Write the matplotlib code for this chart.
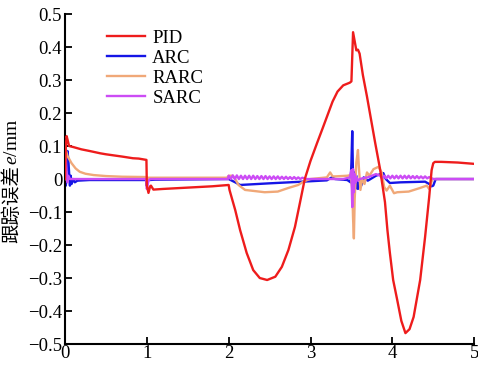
import matplotlib
matplotlib.use('Agg')
import matplotlib.pyplot as plt
from matplotlib.ticker import FuncFormatter, MultipleLocator

# - Data (time in s, error in mm)
pid_t = [0, 0.01, 0.02, 0.03, 0.05, 0.1, 0.2, 0.3, 0.43, 0.5, 0.7, 0.83, 0.9, 0.995,
         1.0, 1.02, 1.04, 1.05, 1.08, 1.2, 1.5, 1.8, 2.0,
         2.01, 2.08, 2.14, 2.22, 2.30, 2.38, 2.47, 2.57, 2.65, 2.73, 2.81, 2.87, 2.93,
         3.0, 3.08, 3.15, 3.21, 3.27, 3.33, 3.4, 3.48, 3.5, 3.52, 3.56, 3.58, 3.6,
         3.64, 3.69, 3.74, 3.79, 3.85, 3.91, 3.94, 3.97, 4.01, 4.06, 4.11, 4.16, 4.21, 4.26, 4.34, 4.40,
         4.45, 4.48, 4.5, 4.52, 4.6, 4.8, 5.0]
pid_e = [0, 0.1, 0.13, 0.12, 0.1, 0.097, 0.09, 0.085, 0.078, 0.075, 0.068, 0.063, 0.062, 0.058,
         -0.02, -0.042, -0.022, -0.02, -0.032, -0.03, -0.026, -0.022, -0.018,
         -0.033, -0.094, -0.155, -0.224, -0.276, -0.3, -0.306, -0.296, -0.266, -0.215, -0.145, -0.073, 0.0,
         0.055, 0.109, 0.155, 0.195, 0.235, 0.265, 0.284, 0.292, 0.296, 0.445, 0.39, 0.392, 0.38,
         0.315, 0.25, 0.18, 0.11, 0.03, -0.07, -0.155, -0.224, -0.306, -0.367, -0.43, -0.467, -0.455, -0.418, -0.306, -0.176,
         -0.055, 0.027, 0.048, 0.052, 0.052, 0.05, 0.046]

arc_t = [0, 0.01, 0.02, 0.03, 0.04, 0.05, 0.06, 0.07, 0.08, 0.1, 0.12, 0.15, 0.3, 0.99,
         1.0, 1.01, 1.03, 1.1, 2.0, 2.08, 2.14, 2.5, 2.9, 3.2, 3.26, 3.3, 3.45,
         3.49, 3.5, 3.51, 3.52, 3.53, 3.54, 3.55, 3.56, 3.58, 3.6, 3.62, 3.65, 3.7, 3.8,
         3.89, 3.92, 3.97, 4.1, 4.4, 4.45, 4.48, 4.5, 4.53, 5.0]
arc_e = [0, -0.02, 0.03, 0.085, 0.06, 0.02, -0.02, 0.01, -0.015, 0.0, -0.01, -0.005, -0.003, -0.003,
         -0.02, 0.0, -0.003, -0.002, 0.0, -0.01, -0.018, -0.013, -0.008, -0.004, 0.005, 0.0, -0.003,
         -0.01, 0.05, 0.145, 0.0, -0.055, 0.02, -0.03, 0.01, -0.03, -0.01, -0.02, 0.005, -0.005, 0.01,
         0.018, 0.0, -0.012, -0.01, -0.008, -0.015, -0.022, -0.02, 0.0, 0.0]

rarc_t = [0, 0.01, 0.03, 0.08, 0.13, 0.18, 0.25, 0.35, 0.5, 0.7, 1.0, 1.01, 1.02, 1.05, 1.5, 1.98,
          2.0, 2.05, 2.08, 2.12, 2.2, 2.44, 2.6, 2.73, 2.85, 2.9, 2.95, 3.0, 3.2, 3.24, 3.27, 3.3, 3.45,
          3.49, 3.51, 3.52, 3.53, 3.54, 3.56, 3.58, 3.59, 3.61, 3.63, 3.66, 3.69, 3.72, 3.77, 3.83,
          3.87, 3.9, 3.93, 3.97, 4.02, 4.06, 4.2, 4.34, 4.42, 4.45, 4.49, 4.52, 5.0]
rarc_e = [0, 0.088, 0.07, 0.048, 0.032, 0.022, 0.016, 0.012, 0.009, 0.007, 0.006, -0.01, 0.004, 0.004, 0.004, 0.004,
          0.01, 0.01, 0.0, -0.018, -0.033, -0.04, -0.038, -0.027, -0.018, -0.01, -0.004, 0.0, 0.005, 0.02, 0.008, 0.008, 0.01,
          0.012, -0.03, -0.12, -0.18, -0.06, 0.05, 0.088, 0.04, -0.033, 0.0, -0.015, 0.02, 0.01, 0.03, 0.037,
          0.02, -0.024, -0.035, -0.02, -0.043, -0.04, -0.038, -0.027, -0.02, -0.03, 0.0, 0.0, 0.0]

sarc_t = [0, 0.01, 0.02, 0.03, 0.04, 0.06, 0.1, 0.99, 1.0, 1.02, 1.04, 1.99,
          2.0, 2.025, 2.05, 2.075, 2.1, 2.125, 2.15, 2.175, 2.2, 2.225, 2.25, 2.275, 2.3, 2.325,
          2.35, 2.375, 2.4, 2.425, 2.45, 2.475, 2.5, 2.525, 2.55, 2.575, 2.6, 2.625, 2.65, 2.675,
          2.7, 2.725, 2.75, 2.775, 2.8, 2.825, 2.85, 2.875, 2.9, 2.95, 3.4,
          3.48, 3.5, 3.51, 3.52, 3.53, 3.54, 3.55, 3.56, 3.58, 3.6, 3.65, 3.7, 3.8, 3.85,
          3.875, 3.9, 3.925, 3.95, 3.975, 4.0, 4.025, 4.05, 4.075, 4.1, 4.125, 4.15, 4.175, 4.2,
          4.225, 4.25, 4.275, 4.3, 4.325, 4.35, 4.375, 4.4, 4.425, 4.45, 4.5, 5.0]
sarc_e = [0, 0.06, 0.02, -0.01, 0.01, 0.0, 0.0, 0.0, -0.03, -0.005, 0.0, 0.0,
          0.01, 0.0, 0.011, 0.0, 0.011, 0.0, 0.01, 0.0, 0.01, 0.0, 0.01, 0.0, 0.01, 0.0,
          0.009, 0.0, 0.009, 0.0, 0.009, 0.0, 0.008, 0.0, 0.008, 0.0, 0.008, 0.0, 0.007, 0.0,
          0.007, 0.0, 0.006, 0.0, 0.006, 0.0, 0.005, 0.0, 0.004, 0.0, 0.0,
          0.005, 0.027, -0.085, 0.03, -0.04, 0.015, -0.01, 0.005, -0.005, 0.0, 0.003, 0.005, 0.015, 0.01,
          0.002, 0.01, 0.002, 0.01, 0.002, 0.01, 0.002, 0.01, 0.002, 0.01, 0.002, 0.01, 0.002, 0.01,
          0.002, 0.009, 0.002, 0.009, 0.002, 0.008, 0.002, 0.008, 0.002, 0.006, 0.0, 0.0]

labels = ['PID', 'ARC', 'RARC', 'SARC']
colors = ['#ee1c1c', '#1515e6', '#f0a878', '#cc4cf5']

# - Fonts
plt.rcParams['font.family'] = ['Liberation Serif', 'Noto Sans CJK SC']
plt.rcParams['mathtext.fontset'] = 'custom'
plt.rcParams['mathtext.it'] = 'Liberation Serif:italic'
plt.rcParams['mathtext.rm'] = 'Liberation Serif'

fig = plt.figure(figsize=(4.78, 3.65), dpi=100)
ax = fig.add_axes([0.136, 0.0575, 0.856, 0.904])

series = [(pid_t, pid_e), (arc_t, arc_e), (rarc_t, rarc_e), (sarc_t, sarc_e)]
zorders = [5, 2, 3, 4]
for (t, e), lab, c, z in zip(series, labels, colors, zorders):
    ax.plot(t, e, color=c, lw=1.7, label=lab, zorder=z)

# -- Axes limits and ticks
ax.set_xlim(0, 5)
ax.set_ylim(-0.5, 0.5)
ax.xaxis.set_major_locator(MultipleLocator(1))
ax.yaxis.set_major_locator(MultipleLocator(0.1))
ax.yaxis.set_major_formatter(FuncFormatter(
    lambda v, pos: '0' if abs(v) < 1e-9 else f'{v:.1f}'.replace('-', '\u2212')))
ax.tick_params(direction='in', length=5, width=1.3, labelsize=13.5)
ax.tick_params(axis='x', pad=1)
ax.tick_params(axis='y', pad=2)

# -- Borders
for side in ('top', 'right'):
    ax.spines[side].set_visible(False)
for side in ('left', 'bottom'):
    ax.spines[side].set_linewidth(1.5)

# -- Y label: Chinese part plus italic e/mm, stacked vertically
fig.canvas.draw()
renderer = fig.canvas.get_renderer()
cn = fig.text(0.024, (365 - 243) / 365, '跟踪误差', rotation=90, ha='center', va='bottom',
              fontsize=14, family='Noto Sans CJK SC')
bb = cn.get_window_extent(renderer).transformed(fig.transFigure.inverted())
fig.text(0.027, bb.y1, '$e$/mm', rotation=90, ha='center', va='bottom', fontsize=14)

ax.legend(loc='upper left', bbox_to_anchor=(0.085, 0.975), frameon=False,
          fontsize=13.5, handlelength=2.0, labelspacing=0.15, handletextpad=0.4,
          borderaxespad=0)

plt.savefig('out.png', dpi=100)
